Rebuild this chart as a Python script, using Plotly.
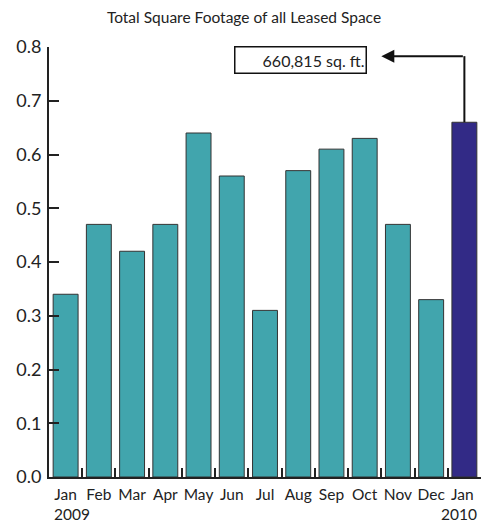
import plotly.graph_objects as go

months = ["Jan", "Feb", "Mar", "Apr", "May", "Jun", "Jul", "Aug", "Sep", "Oct", "Nov", "Dec", "Jan "]
values = [0.34, 0.47, 0.42, 0.47, 0.64, 0.56, 0.31, 0.57, 0.61, 0.63, 0.47, 0.33, 0.66]
colors = ["#41A5AD"] * 12 + ["#322A86"]
year_labels = ["2009", "2010"]
callout_text = "660,815 sq. ft."
y_ticks = [0.0, 0.1, 0.2, 0.3, 0.4, 0.5, 0.6, 0.7, 0.8]

FONT = "Lato, 'Open Sans', sans-serif"
INK = "#222222"

fig = go.Figure()
fig.add_trace(go.Bar(
    x=months, y=values,
    marker=dict(color=colors, line=dict(color="#333333", width=1)),
    showlegend=False, hoverinfo="skip",
))

last = len(months) - 1
corner_y = 0.783

# vertical leader from bar top up to the corner
fig.add_shape(type="line", xref="x", yref="y",
              x0=last, x1=last, y0=values[last], y1=corner_y,
              line=dict(color="#111111", width=2))
# horizontal leader with arrowhead
fig.add_annotation(x=9.5, y=corner_y, ax=last, ay=corner_y,
                   xref="x", yref="y", axref="x", ayref="y",
                   text="", showarrow=True, arrowhead=2, arrowsize=1.3,
                   arrowwidth=2, arrowcolor="#111111")
# boxed label
fig.add_annotation(x=7.07, y=0.776, xref="x", yref="y",
                   text=callout_text, showarrow=False,
                   font=dict(family=FONT, size=16, color=INK),
                   bordercolor="#111111", borderwidth=1.5, bgcolor="white",
                   width=128, height=23, align="right", borderpad=1)

# year labels under first and last month
fig.add_annotation(x=-0.42, y=0, xref="x", yref="paper", yanchor="top",
                   xanchor="left", yshift=-26, text=year_labels[0],
                   showarrow=False, font=dict(family=FONT, size=15.5, color=INK))
fig.add_annotation(x=12.45, y=0, xref="x", yref="paper", yanchor="top",
                   xanchor="right", yshift=-26, text=year_labels[1],
                   showarrow=False, font=dict(family=FONT, size=15.5, color=INK))

fig.update_layout(
    width=488, height=522,
    margin=dict(l=49, r=7, t=47, b=45),
    paper_bgcolor="white", plot_bgcolor="white",
    bargap=0.25,
    font=dict(family=FONT, color=INK),
    title=dict(text="Total Square Footage of all Leased Space",
               x=0.5, xanchor="center", y=0.967, yanchor="middle",
               font=dict(family=FONT, size=15.5, color=INK)),
    xaxis=dict(
        type="category", range=[-0.5, 12.5], automargin=False,
        showline=True, linecolor="#222222", linewidth=2,
        ticks="inside", tickson="boundaries", ticklen=9, tickwidth=1.5,
        tickcolor="#222222", showgrid=False, zeroline=False,
        tickangle=0, ticklabelstandoff=2,
        tickfont=dict(family=FONT, size=15.5, color=INK),
    ),
    yaxis=dict(
        range=[0, 0.8], tickvals=y_ticks, tickformat=".1f", automargin=False,
        showline=True, linecolor="#222222", linewidth=2,
        ticks="inside", ticklen=10, tickwidth=2, tickcolor="#222222",
        showgrid=False, zeroline=False, ticklabelstandoff=2,
        tickfont=dict(family=FONT, size=18, color=INK),
    ),
)

fig.write_html("out.html", config={"displayModeBar": False},
               post_script="document.body.style.margin='0';")
